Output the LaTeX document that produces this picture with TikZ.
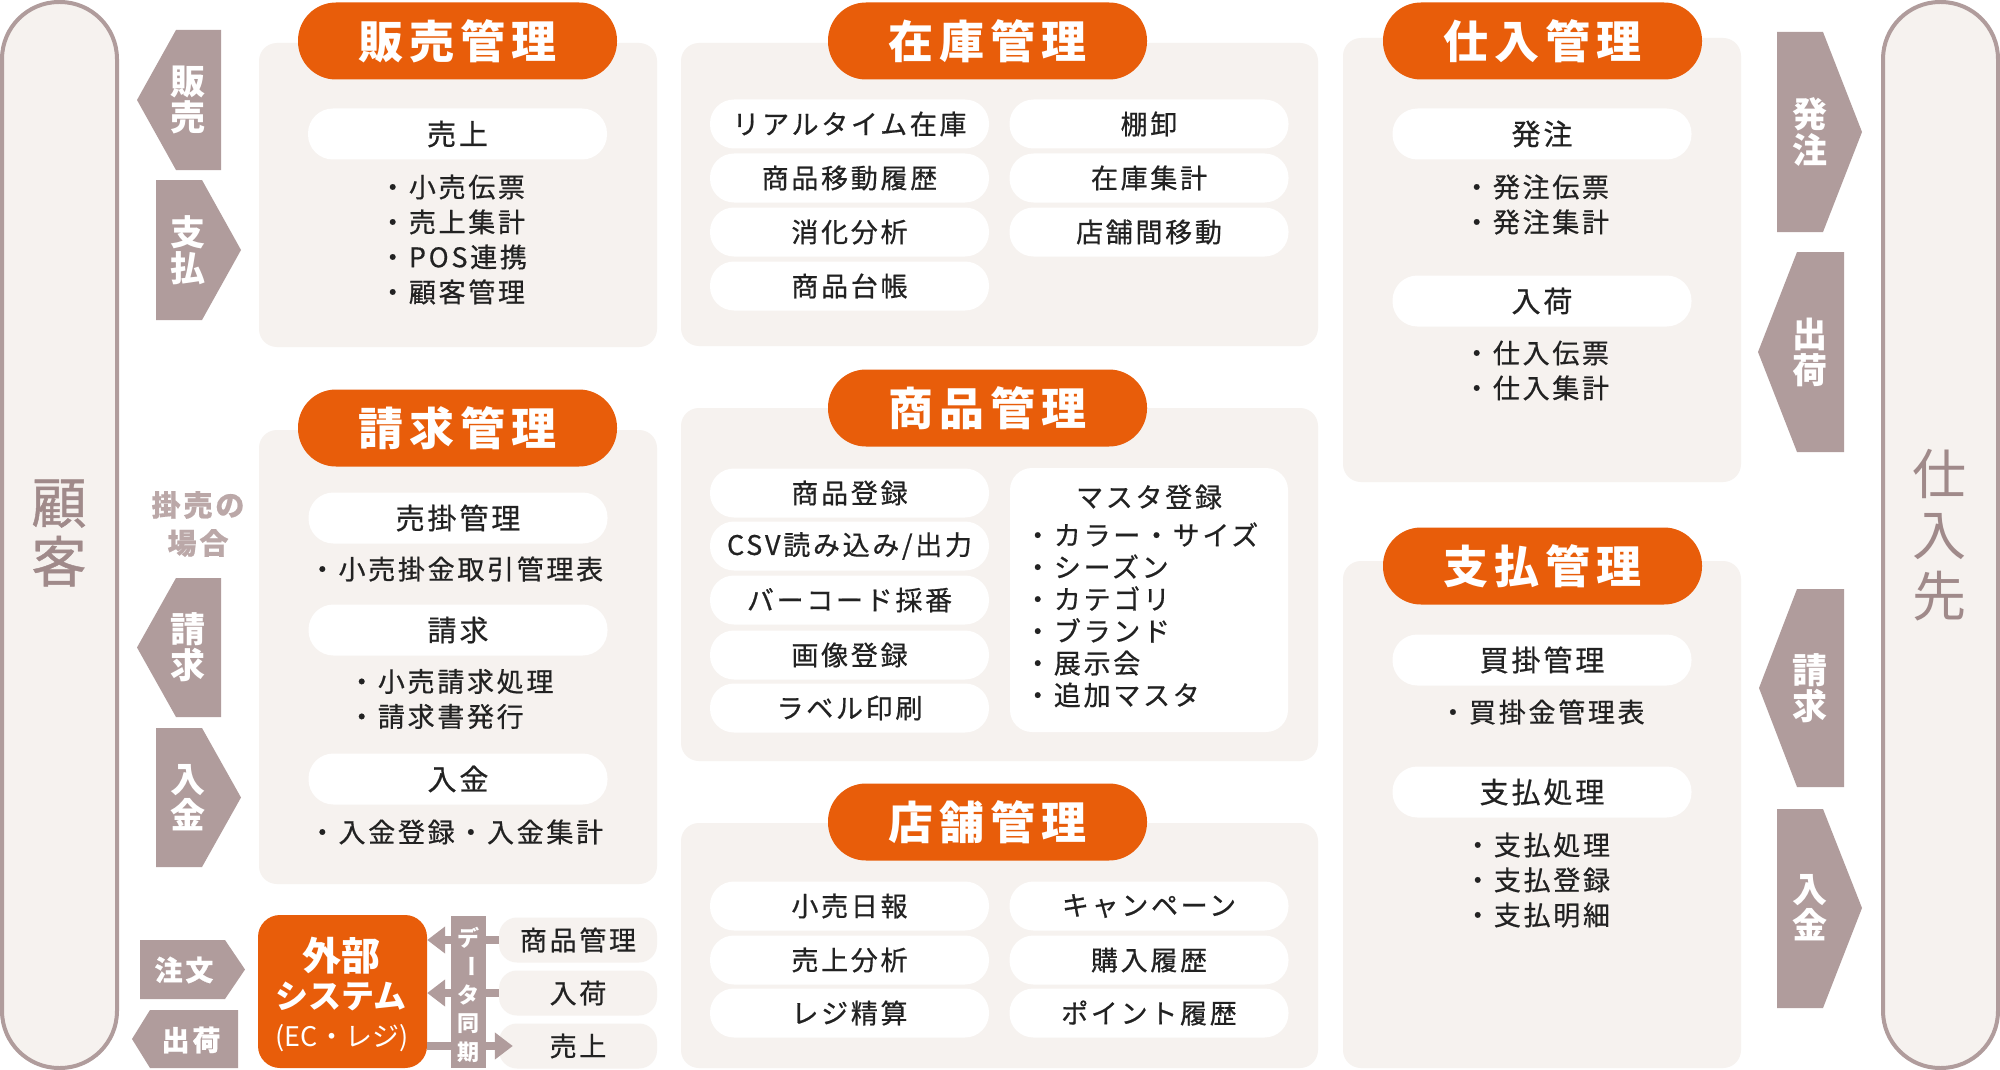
\documentclass[tikz,border=0pt]{standalone}
\usepackage{fontspec}
\setmainfont{Noto Sans CJK JP}
\newfontfamily\jpls{Noto Sans CJK JP}[LetterSpace=10, FakeBold=0.6]
\newfontfamily\jphd{Noto Sans CJK JP}[LetterSpace=14]
\newfontfamily\jpsd{Noto Sans CJK JP}[FakeBold=0.8]
\usetikzlibrary{arrows.meta}
\definecolor{orng}{HTML}{E85D0A}
\definecolor{panelc}{HTML}{F6F2EF}
\definecolor{mauve}{HTML}{B09C9C}
\definecolor{mauvetxt}{HTML}{A08A8A}
\definecolor{lightm}{HTML}{BBA8A8}
\definecolor{ink}{HTML}{222222}
\newcommand{\fsz}[2]{\fontsize{#1}{#2}\selectfont}
\begin{document}
\begin{tikzpicture}[x=1pt,y=-1pt,
  panel/.style={fill=panelc, rounded corners=18pt},
  outerpill/.style={draw=mauve, line width=4pt, fill=panelc, rounded corners=57pt},
  hdr/.style={fill=orng, text=white, rounded corners=38pt, minimum width=319pt, minimum height=77pt, inner sep=0pt, font=\jphd\bfseries\fsz{45}{50}},
  item/.style={fill=white, rounded corners=24pt, minimum width=279pt, minimum height=49pt, inner sep=0pt, text=ink, font=\jpls\fsz{27}{32}},
  wide/.style={minimum width=299pt, minimum height=51pt, rounded corners=25pt, font=\jpls\fsz{29}{32}},
  bl/.style={inner sep=0pt, align=left, text=ink, font=\jpls\fsz{27}{35}},
  blc/.style={inner sep=0pt, text=ink, font=\jpls\fsz{27}{35}},
  flow/.style={fill=mauve},
  flowtxt/.style={inner sep=0pt, align=center, text=white, font=\bfseries\fsz{35}{36}},
  hflowtxt/.style={inner sep=0pt, text=white, font=\jpls\bfseries\fsz{28}{30}},
  sideword/.style={inner sep=0pt, align=center, text=mauvetxt},
  syncitem/.style={fill=panelc, rounded corners=18pt, minimum width=158pt, minimum height=45pt, inner sep=0pt, text=ink, font=\jpls\fsz{27}{30}},
  syncarrow/.style={draw=mauve, line width=8pt, -{Triangle[length=18pt,width=26pt]}},
  synctxt/.style={inner sep=0pt, text=white, font=\bfseries\fsz{22}{24}},
  exttxt/.style={inner sep=0pt, text=white}
]
\useasboundingbox (0,0) rectangle (2000,1070);
\fill[white] (0,0) rectangle (2000,1070);

% outer pills
\draw[outerpill] (2,2) rectangle (117,1068);
\draw[outerpill] (1883,2) rectangle (1998,1068);
\node[sideword, font=\jpsd\fsz{55}{59}] (kokyaku) at (59,533) {顧\\客};
\node[sideword, font=\fsz{54}{61}] (shiiresaki) at (1939,535) {仕\\入\\先};

% panels
\fill[panel] (259,43) rectangle (657,347);
\fill[panel] (259,430) rectangle (657,884);
\fill[panel] (681,43) rectangle (1318,346);
\fill[panel] (681,408) rectangle (1318,761);
\fill[panel] (681,823) rectangle (1318,1068);
\fill[panel] (1343,38) rectangle (1741,482);
\fill[panel] (1343,561) rectangle (1741,1068);

% headers
\node[hdr] (h1) at (457.5,41) {販売管理};
\node[hdr] (h2) at (457.5,428) {請求管理};
\node[hdr] (h3) at (987.5,41) {在庫管理};
\node[hdr] (h4) at (987.5,408) {商品管理};
\node[hdr] (h5) at (987.5,822) {店舗管理};
\node[hdr] (h6) at (1542.5,41) {仕入管理};
\node[hdr] (h7) at (1542.5,566) {支払管理};

% 販売管理
\node[item, wide] (hb1) at (457.5,134) {売上};
\node[bl, anchor=west] (hb2) at (379,239.5) {・小売伝票\\・売上集計\\・POS連携\\・顧客管理};

% 請求管理
\node[item, wide] (sk1) at (458,518) {売掛管理};
\node[blc] (sk2) at (456,569) {・小売掛金取引管理表};
\node[item, wide] (sk3) at (458,630) {請求};
\node[bl, anchor=west] (sk4) at (348,699) {・小売請求処理\\・請求書発行};
\node[item, wide] (sk5) at (458,779) {入金};
\node[blc] (sk6) at (456,832) {・入金登録・入金集計};

% 仕入管理
\node[item, wide] (si1) at (1542,134) {発注};
\node[bl, anchor=west] (si2) at (1463,204.5) {・発注伝票\\・発注集計};
\node[item, wide] (si3) at (1542,301) {入荷};
\node[bl, anchor=west] (si4) at (1463,370.5) {・仕入伝票\\・仕入集計};

% 支払管理
\node[item, wide] (sh1) at (1542,660) {買掛管理};
\node[blc] (sh2) at (1542,712) {・買掛金管理表};
\node[item, wide] (sh3) at (1542,792) {支払処理};
\node[bl, anchor=west] (sh4) at (1464,880) {・支払処理\\・支払登録\\・支払明細};

% 在庫管理
\node[item] (zl1) at (849.5,124) {リアルタイム在庫};
\node[item] (zl2) at (849.5,178) {商品移動履歴};
\node[item] (zl3) at (849.5,232) {消化分析};
\node[item] (zl4) at (849.5,286) {商品台帳};
\node[item] (zr1) at (1149,124) {棚卸};
\node[item] (zr2) at (1149,178) {在庫集計};
\node[item] (zr3) at (1149,232) {店舗間移動};

% 商品管理
\node[item] (gl1) at (849.5,493) {商品登録};
\node[item] (gl2) at (849.5,546) {CSV読み込み/出力};
\node[item] (gl3) at (849.5,600) {バーコード採番};
\node[item] (gl4) at (849.5,655) {画像登録};
\node[item] (gl5) at (849.5,708) {ラベル印刷};
\node[fill=white, rounded corners=22pt, minimum width=278pt, minimum height=264pt, inner sep=0pt] (mbox) at (1149,600) {};
\node[blc] (mt) at (1149,497) {マスタ登録};
\node[bl, anchor=west, font=\jpls\fsz{27}{32}] (ml) at (1024,615) {・カラー・サイズ\\・シーズン\\・カテゴリ\\・ブランド\\・展示会\\・追加マスタ};

% 店舗管理
\node[item] (tl1) at (849.5,906) {小売日報};
\node[item] (tl2) at (849.5,960) {売上分析};
\node[item] (tl3) at (849.5,1013) {レジ精算};
\node[item] (tr1) at (1149,906) {キャンペーン};
\node[item] (tr2) at (1149,960) {購入履歴};
\node[item] (tr3) at (1149,1013) {ポイント履歴};

% left flow arrows
\fill[flow] (221,30) -- (176,30) -- (137,100) -- (176,170) -- (221,170) -- cycle;
\node[flowtxt] (a1) at (188,100) {販\\売};
\fill[flow] (156,180) -- (202,180) -- (241,250) -- (202,320) -- (156,320) -- cycle;
\node[flowtxt] (a2) at (188,250) {支\\払};
\node[inner sep=0pt, align=center, text=lightm, font=\jpls\bfseries\fsz{29}{38}] (kake) at (198,524) {掛売の\\場合};
\fill[flow] (221,578) -- (176,578) -- (137,647.5) -- (176,717) -- (221,717) -- cycle;
\node[flowtxt] (a3) at (188,647.5) {請\\求};
\fill[flow] (156,728) -- (202,728) -- (241,797.5) -- (202,867) -- (156,867) -- cycle;
\node[flowtxt] (a4) at (188,797.5) {入\\金};
\fill[flow] (140,940) -- (225,940) -- (245,969.5) -- (225,999) -- (140,999) -- cycle;
\node[hflowtxt] (a5) at (184,970) {注文};
\fill[flow] (238,1010) -- (150,1010) -- (132,1039) -- (150,1068) -- (238,1068) -- cycle;
\node[hflowtxt] (a6) at (191,1040) {出荷};

% right flow arrows
\fill[flow] (1777,32) -- (1823,32) -- (1862,132) -- (1823,232) -- (1777,232) -- cycle;
\node[flowtxt] (b1) at (1810,132) {発\\注};
\fill[flow] (1844,252) -- (1797,252) -- (1758,352) -- (1797,452) -- (1844,452) -- cycle;
\node[flowtxt] (b2) at (1810,352) {出\\荷};
\fill[flow] (1844,589) -- (1797,589) -- (1759,688) -- (1797,787) -- (1844,787) -- cycle;
\node[flowtxt] (b3) at (1810,688) {請\\求};
\fill[flow] (1777,809) -- (1823,809) -- (1862,908) -- (1823,1008) -- (1777,1008) -- cycle;
\node[flowtxt] (b4) at (1810,908) {入\\金};

% external system
\node[fill=orng, rounded corners=22pt, minimum width=169pt, minimum height=153pt, inner sep=0pt] (ext) at (342.5,991.5) {};
\node[exttxt, font=\bfseries\fsz{39}{44}] (ext1) at (341,956) {外部};
\node[exttxt, font=\bfseries\fsz{33}{36}] (ext2) at (341,996) {システム};
\node[exttxt, font=\fsz{27}{30}] (ext3) at (342,1038) {(EC・レジ)};

% sync items
\node[syncitem] (s1) at (578,940) {商品管理};
\node[syncitem] (s2) at (578,993) {入荷};
\node[syncitem] (s3) at (578,1046) {売上};

% sync arrows
\draw[syncarrow] (s1.west) -- (s1.west -| ext.east);
\draw[syncarrow] (s2.west) -- (s2.west -| ext.east);
\draw[syncarrow, shorten >=-14pt] (ext.east |- s3.west) -- (s3.west);

% sync bar
\fill[mauve] (451,916) rectangle (486,1068);
\node[synctxt] (d1) at (468.5,938) {デ};
\node[synctxt, rotate=-90] (d2) at (468.5,966) {ー};
\node[synctxt] (d3) at (468.5,995) {タ};
\node[synctxt] (d4) at (468.5,1024) {同};
\node[synctxt] (d5) at (468.5,1052) {期};
\end{tikzpicture}
\end{document}
